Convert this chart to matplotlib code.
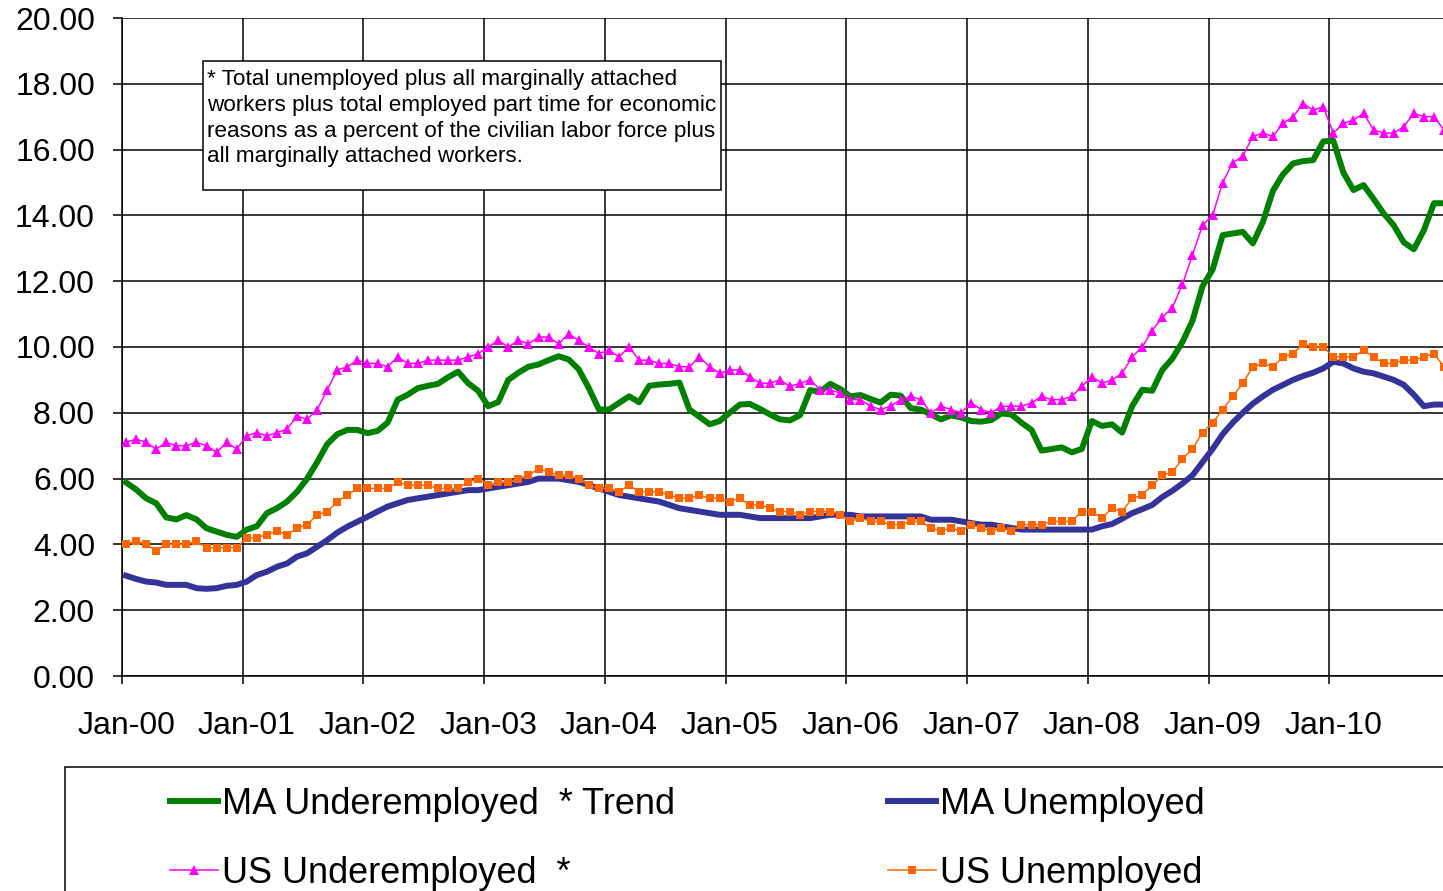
import numpy as np
import matplotlib
matplotlib.use('Agg')
import matplotlib.pyplot as plt
from matplotlib.patches import Rectangle
from matplotlib.ticker import FormatStrFormatter

plt.rcParams['font.family'] = ['Liberation Sans', 'DejaVu Sans']

# monthly data, Jan-00 .. Dec-10
months = np.arange(132)
year_labels = ['Jan-00', 'Jan-01', 'Jan-02', 'Jan-03', 'Jan-04', 'Jan-05',
               'Jan-06', 'Jan-07', 'Jan-08', 'Jan-09', 'Jan-10']

ma_under = [
    5.88, 5.67, 5.40, 5.25, 4.82, 4.76, 4.89, 4.76, 4.49, 4.39, 4.29, 4.23,
    4.45, 4.55, 4.95, 5.10, 5.30, 5.60, 6.00, 6.50, 7.05, 7.35, 7.48, 7.48,
    7.38, 7.45, 7.70, 8.40, 8.55, 8.75, 8.82, 8.88, 9.08, 9.25, 8.90, 8.67,
    8.20, 8.33, 9.00, 9.22, 9.40, 9.47, 9.60, 9.72, 9.62, 9.32, 8.75, 8.10,
    8.10, 8.30, 8.50, 8.32, 8.82, 8.86, 8.88, 8.92, 8.10, 7.88, 7.65, 7.75,
    8.00, 8.25, 8.27, 8.12, 7.95, 7.80, 7.77, 7.93, 8.69, 8.64, 8.88, 8.72,
    8.50, 8.54, 8.42, 8.31, 8.55, 8.52, 8.14, 8.10, 7.95, 7.80, 7.92, 7.86,
    7.75, 7.73, 7.78, 7.98, 7.95, 7.70, 7.48, 6.85, 6.90, 6.95, 6.80, 6.90,
    7.75, 7.60, 7.65, 7.40, 8.20, 8.70, 8.67, 9.30, 9.65, 10.15, 10.80, 11.85,
    12.35, 13.40, 13.45, 13.50, 13.15, 13.80, 14.75, 15.25, 15.58, 15.65, 15.68, 16.25,
    16.27, 15.30, 14.77, 14.92, 14.50, 14.06, 13.70, 13.18, 12.97, 13.55, 14.37, 14.37,
]

ma_unemp = [
    3.05, 2.95, 2.87, 2.84, 2.77, 2.77, 2.77, 2.67, 2.65, 2.67, 2.74, 2.77,
    2.87, 3.07, 3.17, 3.32, 3.42, 3.63, 3.73, 3.93, 4.13, 4.36, 4.54, 4.69,
    4.84, 5.00, 5.15, 5.25, 5.35, 5.40, 5.45, 5.50, 5.55, 5.60, 5.65, 5.65,
    5.70, 5.75, 5.80, 5.85, 5.90, 6.00, 6.00, 6.00, 5.95, 5.90, 5.80, 5.70,
    5.60, 5.50, 5.45, 5.40, 5.35, 5.30, 5.20, 5.10, 5.05, 5.00, 4.95, 4.90,
    4.90, 4.90, 4.85, 4.80, 4.80, 4.80, 4.80, 4.80, 4.80, 4.85, 4.90, 4.90,
    4.90, 4.85, 4.85, 4.85, 4.85, 4.85, 4.85, 4.85, 4.75, 4.75, 4.75, 4.70,
    4.65, 4.60, 4.60, 4.55, 4.50, 4.45, 4.45, 4.45, 4.45, 4.45, 4.45, 4.45,
    4.45, 4.55, 4.62, 4.78, 4.95, 5.07, 5.20, 5.44, 5.63, 5.85, 6.10, 6.50,
    6.90, 7.35, 7.70, 8.00, 8.28, 8.50, 8.70, 8.85, 9.00, 9.12, 9.22, 9.35,
    9.55, 9.50, 9.35, 9.25, 9.20, 9.10, 9.00, 8.85, 8.55, 8.20, 8.25, 8.25,
]

us_under = [
    7.1, 7.2, 7.1, 6.9, 7.1, 7.0, 7.0, 7.1, 7.0, 6.8, 7.1, 6.9,
    7.3, 7.4, 7.3, 7.4, 7.5, 7.9, 7.8, 8.1, 8.7, 9.3, 9.4, 9.6,
    9.5, 9.5, 9.4, 9.7, 9.5, 9.5, 9.6, 9.6, 9.6, 9.6, 9.7, 9.8,
    10.0, 10.2, 10.0, 10.2, 10.1, 10.3, 10.3, 10.1, 10.4, 10.2, 10.0, 9.8,
    9.9, 9.7, 10.0, 9.6, 9.6, 9.5, 9.5, 9.4, 9.4, 9.7, 9.4, 9.2,
    9.3, 9.3, 9.1, 8.9, 8.9, 9.0, 8.8, 8.9, 9.0, 8.7, 8.7, 8.6,
    8.4, 8.4, 8.2, 8.1, 8.2, 8.4, 8.5, 8.4, 8.0, 8.2, 8.1, 8.0,
    8.3, 8.1, 8.0, 8.2, 8.2, 8.2, 8.3, 8.5, 8.4, 8.4, 8.5, 8.8,
    9.1, 8.9, 9.0, 9.2, 9.7, 10.0, 10.5, 10.9, 11.2, 11.9, 12.8, 13.7,
    14.0, 15.0, 15.6, 15.8, 16.4, 16.5, 16.4, 16.8, 17.0, 17.4, 17.2, 17.3,
    16.5, 16.8, 16.9, 17.1, 16.6, 16.5, 16.5, 16.7, 17.1, 17.0, 17.0, 16.6,
]

us_unemp = [
    4.0, 4.1, 4.0, 3.8, 4.0, 4.0, 4.0, 4.1, 3.9, 3.9, 3.9, 3.9,
    4.2, 4.2, 4.3, 4.4, 4.3, 4.5, 4.6, 4.9, 5.0, 5.3, 5.5, 5.7,
    5.7, 5.7, 5.7, 5.9, 5.8, 5.8, 5.8, 5.7, 5.7, 5.7, 5.9, 6.0,
    5.8, 5.9, 5.9, 6.0, 6.1, 6.3, 6.2, 6.1, 6.1, 6.0, 5.8, 5.7,
    5.7, 5.6, 5.8, 5.6, 5.6, 5.6, 5.5, 5.4, 5.4, 5.5, 5.4, 5.4,
    5.3, 5.4, 5.2, 5.2, 5.1, 5.0, 5.0, 4.9, 5.0, 5.0, 5.0, 4.9,
    4.7, 4.8, 4.7, 4.7, 4.6, 4.6, 4.7, 4.7, 4.5, 4.4, 4.5, 4.4,
    4.6, 4.5, 4.4, 4.5, 4.4, 4.6, 4.6, 4.6, 4.7, 4.7, 4.7, 5.0,
    5.0, 4.8, 5.1, 5.0, 5.4, 5.5, 5.8, 6.1, 6.2, 6.6, 6.9, 7.4,
    7.7, 8.1, 8.5, 8.9, 9.4, 9.5, 9.4, 9.7, 9.8, 10.1, 10.0, 10.0,
    9.7, 9.7, 9.7, 9.9, 9.7, 9.5, 9.5, 9.6, 9.6, 9.7, 9.8, 9.4,
]

note = ("* Total unemployed plus all marginally attached\n"
        "workers plus total employed part time for economic\n"
        "reasons as a percent of the civilian labor force plus\n"
        "all marginally attached workers.")

W, H = 1443, 891


def fx(px):
    return px / W


def fy(py):
    return 1 - py / H


fig = plt.figure(figsize=(W / 100, H / 100), dpi=100)
ax = fig.add_axes([fx(122), fy(676), (W - 122) / W, (676 - 18) / H])

l1, = ax.plot(months, ma_under, color='#008000', lw=4.3, zorder=3,
              label='MA Underemployed  * Trend')
l2, = ax.plot(months, ma_unemp, color='#333399', lw=4.3, zorder=3,
              label='MA Unemployed')
l3, = ax.plot(months, us_under, color='#FF00FF', lw=1.1, marker='^',
              markersize=7, markeredgewidth=0, zorder=4,
              label='US Underemployed  *')
l4, = ax.plot(months, us_unemp, color='#FF6600', lw=1.1, marker='s',
              markersize=6, markeredgewidth=0, zorder=4,
              label='US Unemployed')

ax.set_xlim(-0.4, 130.9)
ax.set_ylim(0, 20)
ax.set_yticks(np.arange(0, 21, 2))
ax.yaxis.set_major_formatter(FormatStrFormatter('%.2f'))

ax.set_xticks(np.arange(0, 132, 12) - 0.4)
ax.set_xticklabels([])
ax.set_xticks(np.arange(0, 132, 12), minor=True)
ax.set_xticklabels(year_labels, minor=True)

ax.grid(True, which='major', color='black', lw=1.1)
ax.tick_params(axis='x', which='major', direction='out', length=6, width=1.1)
ax.tick_params(axis='x', which='minor', length=0, pad=25, labelsize=23)
ax.tick_params(axis='y', direction='out', length=6.5, width=1.1, pad=13,
               labelsize=23)

for s in ['top', 'right']:
    ax.spines[s].set_visible(False)
for s in ['left', 'bottom']:
    ax.spines[s].set_color('black')
    ax.spines[s].set_linewidth(1.1)

# footnote box
fig.add_artist(Rectangle((fx(203), fy(190)), (721 - 203) / W, (190 - 61) / H,
                         transform=fig.transFigure, facecolor='white',
                         edgecolor='black', lw=1.1, zorder=5))
fig.text(fx(207), fy(69), note, ha='left', va='top', fontsize=16.2,
         linespacing=1.3, zorder=6)

# legend
fig.add_artist(Rectangle((fx(65), fy(905)), (1460 - 65) / W, (905 - 767) / H,
                         transform=fig.transFigure, fill=False,
                         edgecolor='black', lw=1.1, clip_on=False))
fig.legend([l1, l3, l2, l4], [l1.get_label(), l3.get_label(),
                              l2.get_label(), l4.get_label()],
           loc='upper left', bbox_to_anchor=(fx(170), fy(787)), ncol=2,
           frameon=False, fontsize=26, handlelength=1.32, handletextpad=0.12,
           columnspacing=5.9, labelspacing=0.93, borderpad=0,
           borderaxespad=0)

fig.savefig('out.png', dpi=100)
